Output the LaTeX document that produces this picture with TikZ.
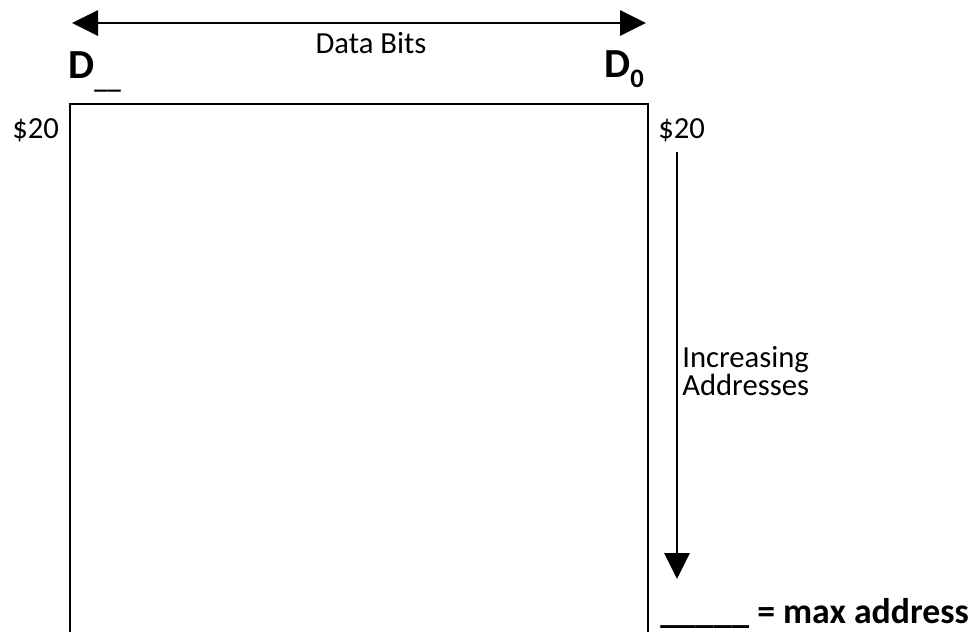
\documentclass[tikz,border=0pt]{standalone}
\usepackage{fontspec}
\setmainfont{Carlito}
\usetikzlibrary{arrows.meta}
\newcommand\subtxt[1]{\raisebox{-8pt}{\fontsize{20}{24}\selectfont #1}}
\tikzset{
  lbl/.style={inner sep=0pt, anchor=base west, font=\fontsize{23}{28}\selectfont},
  bigbold/.style={inner sep=0pt, anchor=base west, font=\fontsize{31}{36}\selectfont\bfseries},
  boldlbl/.style={inner sep=0pt, anchor=base west, font=\fontsize{26.8}{32}\selectfont\bfseries},
  wire/.style={line width=1.5pt, >={Triangle[length=19.5pt,width=19pt]}}
}
\begin{document}
\begin{tikzpicture}[x=0.75pt,y=-0.75pt]
  %%%%% START %%%%%
  \useasboundingbox (0,0) rectangle (979,632);
  \clip (0,0) rectangle (979,632);

  % memory block
  \draw[wire] (70,104) rectangle (648,660);

  % data bits
  \coordinate (msb) at (72,23);
  \coordinate (lsb) at (646,23);
  \draw[wire, <->] (msb) -- (lsb);
  \node[lbl, anchor=base] (bits) at (371,53) {Data Bits};
  \node[bigbold] (msbname) at (68,78) {D\subtxt{\_\_}};
  \node[bigbold] (lsbname) at (604,77) {D\subtxt{0}};

  % start address
  \node[lbl] (startl) at (12,138) {\$20};
  \node[lbl] (startr) at (658,138) {\$20};

  % address direction
  \coordinate (addrtop) at (677,152);
  \coordinate (addrend) at (677,579);
  \draw[wire, ->] (addrtop) -- (addrend);
  \node[lbl] (inc) at (682,367) {Increasing};
  \node[lbl] (addr) at (682,395) {Addresses};

  \node[boldlbl] (maxaddr) at (660,623) {\_\_\_\_\_ = max address};
  %%%%% END %%%%%
\end{tikzpicture}
\end{document}
